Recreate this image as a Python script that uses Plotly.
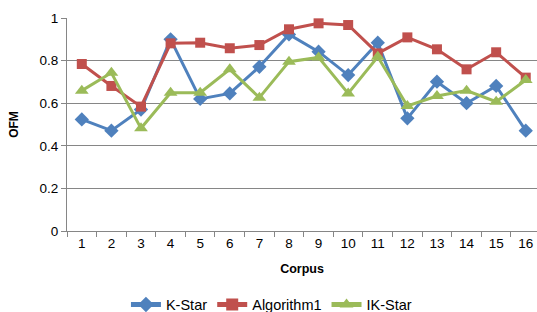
import plotly.graph_objects as go

corpus = [str(i) for i in range(1, 17)]
k_star = [0.524, 0.471, 0.57, 0.90, 0.62, 0.646, 0.771, 0.923, 0.842, 0.732, 0.884, 0.529, 0.701, 0.600, 0.681, 0.471]
algorithm1 = [0.784, 0.681, 0.584, 0.881, 0.884, 0.858, 0.873, 0.947, 0.975, 0.967, 0.834, 0.909, 0.853, 0.759, 0.839, 0.720]
ik_star = [0.659, 0.743, 0.482, 0.649, 0.649, 0.759, 0.626, 0.795, 0.815, 0.646, 0.818, 0.587, 0.634, 0.659, 0.607, 0.709]
y_ticks = [0, 0.2, 0.4, 0.6, 0.8, 1]
y_labels = ["0", "0.2", "0.4", "0.6", "0.8", "1"]

FONT = "Liberation Sans, Arial, sans-serif"

fig = go.Figure()
fig.add_trace(go.Scatter(x=corpus, y=k_star, name="K-Star", mode="lines+markers",
                         line=dict(color="#4F81BD", width=3),
                         marker=dict(symbol="diamond", size=11, color="#4F81BD")))
fig.add_trace(go.Scatter(x=corpus, y=algorithm1, name="Algorithm1", mode="lines+markers",
                         line=dict(color="#C0504D", width=3),
                         marker=dict(symbol="square", size=10, color="#C0504D")))
fig.add_trace(go.Scatter(x=corpus, y=ik_star, name="IK-Star", mode="lines+markers",
                         line=dict(color="#9BBB59", width=3),
                         marker=dict(symbol="triangle-up", size=12, color="#9BBB59")))

fig.update_layout(
    width=537, height=312,
    margin=dict(l=67, r=0, t=18, b=81, autoexpand=False),
    paper_bgcolor="white", plot_bgcolor="white",
    font=dict(family=FONT, size=13, color="#000000"),
    showlegend=True,
    legend=dict(orientation="h", x=0.435, xanchor="center", y=-0.27, yanchor="top",
                font=dict(size=14.5), itemwidth=30, tracegroupgap=0,
                itemsizing="constant"),
    xaxis=dict(type="category", range=[-0.5, 15.38], tickson="boundaries",
               ticks="outside", ticklen=5, tickcolor="#868686",
               showline=True, linecolor="#868686", linewidth=1,
               showgrid=False, tickfont=dict(size=13.5), automargin=False,
               ticklabeloverflow="allow",
               title=dict(text="<b>Corpus</b>", font=dict(size=12.5), standoff=14)),
    yaxis=dict(range=[0, 1], tickvals=y_ticks, ticktext=y_labels,
               ticks="outside", ticklen=5, tickcolor="#868686",
               showline=True, linecolor="#868686", linewidth=1,
               showgrid=True, gridcolor="#868686", gridwidth=1,
               zeroline=False, tickfont=dict(size=13.5), automargin=False,
               title=dict(text="<b>OFM</b>", font=dict(size=12), standoff=18)),
)

fig.write_html("out.html", config={"displayModeBar": False},
               post_script="document.body.style.margin='0';document.body.style.overflow='hidden';")
